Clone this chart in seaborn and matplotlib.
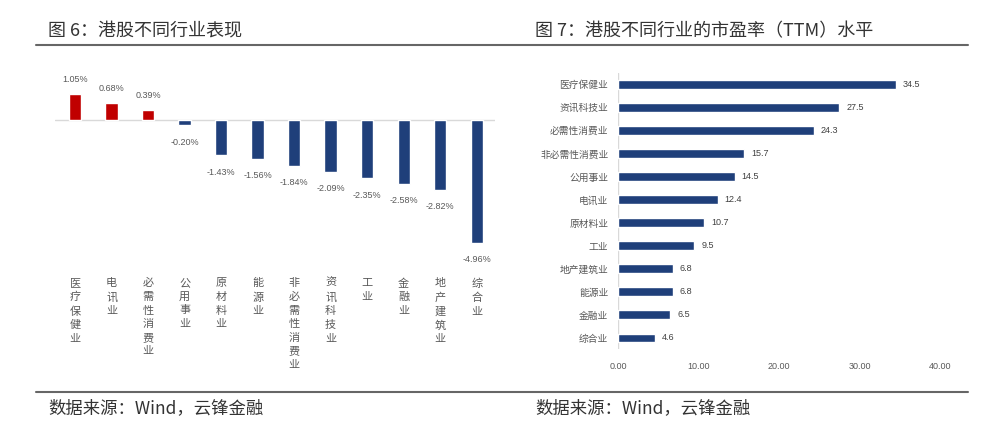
import matplotlib
matplotlib.use("Agg")
import matplotlib.pyplot as plt
import seaborn as sns
import pandas as pd
from matplotlib.lines import Line2D

sns.set_theme(style="white")
plt.rcParams['font.family'] = ['Noto Sans CJK SC', 'DejaVu Sans']

# ---- data ----
perf_categories = ["医疗保健业", "电讯业", "必需性消费业", "公用事业", "原材料业", "能源业",
                   "非必需性消费业", "资讯科技业", "工业", "金融业", "地产建筑业", "综合业"]
perf_values = [1.05, 0.68, 0.39, -0.20, -1.43, -1.56, -1.84, -2.09, -2.35, -2.58, -2.82, -4.96]

pe_categories = ["医疗保健业", "资讯科技业", "必需性消费业", "非必需性消费业", "公用事业", "电讯业",
                 "原材料业", "工业", "地产建筑业", "能源业", "金融业", "综合业"]
pe_values = [34.5, 27.5, 24.3, 15.7, 14.5, 12.4, 10.7, 9.5, 6.8, 6.8, 6.5, 4.6]
pe_ticks = [0, 10, 20, 30, 40]

title_left = "图 6：港股不同行业表现"
title_right = "图 7：港股不同行业的市盈率（TTM）水平"
source_text = "数据来源：Wind，云锋金融"

RED = "#C00000"
BLUE = "#1F3F7A"
GRAY = "#595959"
NUMFONT = ["Liberation Sans", "DejaVu Sans"]

W, H = 1000, 426
fig = plt.figure(figsize=(10, 4.26), dpi=100)

# ---- left chart ----
axL = fig.add_axes([0.055, 0.399, 0.44, 0.406])
dfL = pd.DataFrame({"cat": perf_categories, "val": perf_values})
colors = [RED if v > 0 else BLUE for v in perf_values]
sns.barplot(data=dfL, x="cat", y="val", hue="cat", palette=colors, legend=False,
            width=0.34, ax=axL, saturation=1)
axL.set_xlim(-0.55, 11.5)
axL.set_ylim(-5.5, 1.5)
axL.axhline(0, color="#d9d9d9", lw=1, zorder=0)
for s in axL.spines.values():
    s.set_visible(False)
axL.set_yticks([])
axL.set_xlabel("")
axL.set_ylabel("")
axL.set_xticks(range(len(perf_categories)))
axL.set_xticklabels(["\n".join(c) for c in perf_categories], fontsize=8, color=GRAY,
                    linespacing=1.45, va="top")
axL.tick_params(axis="x", length=0, pad=16)
for i, v in enumerate(perf_values):
    off = 10.8 if v > 0 else -12.2
    axL.annotate(f"{v:.2f}%", (i, v), xytext=(0, off), textcoords="offset points",
                 ha="center", va="center", fontsize=6.5, color=GRAY, family=NUMFONT)

# ---- right chart ----
axR = fig.add_axes([0.618, 0.1796, 0.322, 0.650])
dfR = pd.DataFrame({"cat": pe_categories, "val": pe_values})
sns.barplot(data=dfR, y="cat", x="val", color=BLUE, orient="h", width=0.38, ax=axR,
            saturation=1)
axR.set_xlim(0, 40)
axR.set_ylim(11.5, -0.5)
for s in axR.spines.values():
    s.set_visible(False)
axR.axvline(0, color="#d9d9d9", lw=1, zorder=0)
axR.set_xlabel("")
axR.set_ylabel("")
axR.set_xticks(pe_ticks)
axR.set_xticklabels([f"{t:.2f}" for t in pe_ticks], fontsize=6.5, color=GRAY, family=NUMFONT)
axR.tick_params(axis="x", length=0, pad=9)
axR.tick_params(axis="y", length=0, pad=7, labelsize=7, labelcolor=GRAY)
for i, v in enumerate(pe_values):
    axR.annotate(f"{v}", (v, i), xytext=(5, 0), textcoords="offset points",
                 ha="left", va="center", fontsize=6.5, color="#404040", family=NUMFONT)

# ---- titles, rules, footers ----
def fx(px):
    return px / W

def fy(py):
    return 1 - py / H

fig.text(fx(48), fy(31), title_left, fontsize=13, color="#333333", va="center", ha="left")
fig.text(fx(535), fy(31), title_right, fontsize=13, color="#333333", va="center", ha="left")
fig.add_artist(Line2D([fx(36), fx(968)], [fy(45), fy(45)], color="#666666", lw=1.5))
fig.add_artist(Line2D([fx(36), fx(968)], [fy(392), fy(392)], color="#666666", lw=1.5))
fig.text(fx(48), fy(408), source_text, fontsize=12.5, color="#333333", va="center", ha="left")
fig.text(fx(535), fy(408), source_text, fontsize=12.5, color="#333333", va="center", ha="left")

fig.savefig("out.png", dpi=100)
